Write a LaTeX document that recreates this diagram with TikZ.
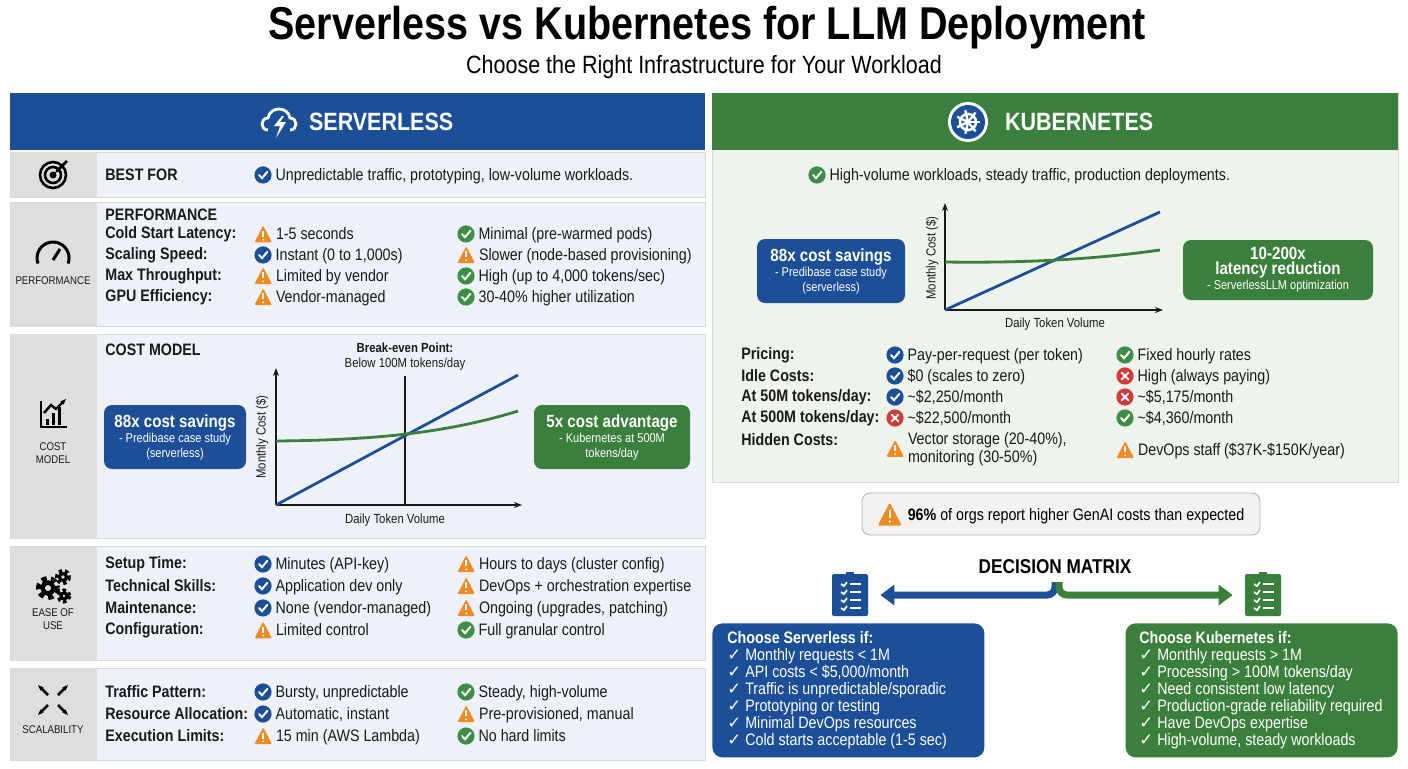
\documentclass[tikz,border=0pt]{standalone}
\usepackage{fontspec}
\setmainfont{Liberation Sans}[FakeStretch=0.86]
\newfontfamily\djv{DejaVu Sans}
\newcommand\ck{{\djv ✓}}
\usetikzlibrary{arrows.meta,calc}
\definecolor{sblue}{HTML}{1D4F99}
\definecolor{kgreen}{HTML}{3B7F3C}
\definecolor{worange}{HTML}{F08A24}
\definecolor{xred}{HTML}{D33A3A}
\definecolor{cgreen}{HTML}{3E8E47}
\definecolor{lblue}{HTML}{EEF2F8}
\definecolor{lgrey}{HTML}{DEDEDE}
\definecolor{lgreen}{HTML}{EEF3EC}
\definecolor{txt}{HTML}{1A1A1A}
\newcommand\icb{\tikz[x=1pt,y=1pt,baseline=-2.6pt]{\fill[sblue](0,0)circle(4.3);\draw[white,line width=1pt,line cap=round](-2,0)--(-0.5,-1.6)--(2.2,1.6);}}
\newcommand\icg{\tikz[x=1pt,y=1pt,baseline=-2.6pt]{\fill[cgreen](0,0)circle(4.3);\draw[white,line width=1pt,line cap=round](-2,0)--(-0.5,-1.6)--(2.2,1.6);}}
\newcommand\icx{\tikz[x=1pt,y=1pt,baseline=-2.6pt]{\fill[xred](0,0)circle(4.3);\draw[white,line width=1pt,line cap=round](-1.6,-1.6)--(1.6,1.6)(-1.6,1.6)--(1.6,-1.6);}}
\newcommand\icw{\tikz[x=1pt,y=1pt,baseline=-2.6pt]{\fill[worange,rounded corners=0.6pt](-4.4,-4)--(4.4,-4)--(0,4.4)--cycle;\draw[white,line width=0.9pt](0,1.8)--(0,-1.2);\fill[white](0,-2.6)circle(0.5);}}
\newcommand\bigt[1]{{\bfseries\fontsize{8.8}{10}\selectfont #1}}
\tikzset{
  x=0.5pt,y=-0.5pt,
  lab/.style={anchor=west,font=\bfseries\fontsize{8.3}{9}\selectfont,text=txt,inner sep=0},
  val/.style={anchor=west,font=\fontsize{8.3}{9}\selectfont,text=txt,inner sep=0},
  side/.style={font=\fontsize{5.6}{6.4}\selectfont,text=txt,align=center,inner sep=0},
  axisl/.style={font=\fontsize{6.6}{7.5}\selectfont,text=txt,inner sep=0},
  bigbox/.style={rounded corners=4pt,text=white,align=center,inner sep=3pt,font=\fontsize{6.4}{7.5}\selectfont},
  axarrow/.style={-{Stealth[length=4pt]},line width=0.7pt,txt},
}
\newcommand\prow[9]{%
  \node[lab] (l#1) at (#7,#1) {#2};
  \node[val] (a#1) at (#8,#1) {#3\hspace{2pt}#4};
  \node[val] (b#1) at (#9,#1) {#5\hspace{2pt}#6};}
\begin{document}
\begin{tikzpicture}
\useasboundingbox[fill=white] (0,0) rectangle (1408,768);
% title
\node[font=\bfseries\fontsize{23}{26}\selectfont] (title) at (707,28) {Serverless vs Kubernetes for LLM Deployment};
\node[font=\fontsize{12.5}{14}\selectfont] (sub) at (704,67) {Choose the Right Infrastructure for Your Workload};
% LEFT header
\fill[sblue] (10,93) rectangle (705,150);
\node[text=white,font=\bfseries\fontsize{12.5}{14}\selectfont,anchor=west] (shead) at (302,122) {SERVERLESS};
\begin{scope}[shift={(280,122)}]
\draw[white,line width=1.4pt] (-12,8) .. controls (-20,8) and (-20,-4) .. (-12,-4) .. controls (-10,-16) and (8,-16) .. (10,-4) .. controls (18,-4) and (18,8) .. (10,8);
\fill[white] (2,-6)--(-6,4)--(0,4)--(-4,16)--(6,0)--(0,0)--(4,-6)--cycle;
\end{scope}
% left rows bgs
\foreach \ya/\yb in {152/197,202/326,334/538,546/660,668/760}{
  \fill[lblue] (10,\ya) rectangle (705,\yb);
  \fill[lgrey] (10,\ya) rectangle (97,\yb);
  \draw[black!15] (10,\ya) rectangle (705,\yb);
}
% side icons
\begin{scope}[shift={(53,175)},line width=1.3pt]
\draw (0,0) circle (13); \draw (0,0) circle (8); \fill (0,0) circle (3.5);
\draw[-{Stealth[length=3pt]}] (14,-14)--(2,-2);
\end{scope}
\begin{scope}[shift={(53,258)},line width=1.5pt]
\draw (-15,5.5) arc[start angle=160,end angle=380,radius=16]; \draw (0,2)--(7,-9);
\end{scope}
\node[side] (sperf) at (53,281) {PERFORMANCE};
\begin{scope}[shift={(53,415)},line width=1.2pt]
\draw (-12,-14)--(-12,12)--(14,12);
\fill (-7,4) rectangle (-4,10); \fill (-1,-2) rectangle (2,10); \fill (5,-8) rectangle (8,10);
\draw[-{Stealth[length=3pt]}] (-9,-2)--(-2,-10)--(3,-6)--(13,-16);
\end{scope}
\node[side] (scost) at (53,453) {COST\\MODEL};
\begin{scope}[shift={(53,585)}]
\draw[line width=3pt,dash pattern=on 2.5pt off 2pt] (-5,3) circle (9); \draw[line width=2.2pt] (-5,3) circle (5.5);
\draw[line width=2pt,dash pattern=on 1.6pt off 1.4pt] (10,-8) circle (6); \draw[line width=1.6pt] (10,-8) circle (3.5);
\draw[line width=2pt,dash pattern=on 1.6pt off 1.4pt] (11,11) circle (5.5); \draw[line width=1.6pt] (11,11) circle (3);
\end{scope}
\node[side] (sease) at (53,619) {EASE OF\\USE};
\begin{scope}[shift={(53,700)},line width=1.3pt,-{Stealth[length=3pt]}]
\draw (-5,-5)--(-15,-15); \draw (5,-5)--(15,-15); \draw (-5,5)--(-15,15); \draw (5,5)--(15,15);
\end{scope}
\node[side] (sscal) at (53,730) {SCALABILITY};
% best for
\node[lab] (bf) at (105,175) {BEST FOR};
\node[val] (bfv) at (254,175) {\icb\hspace{2pt}Unpredictable traffic, prototyping, low-volume workloads.};
% performance
\node[lab] (perft) at (105,215) {PERFORMANCE};
\prow{234}{Cold Start Latency:}{\icw}{1-5 seconds}{\icg}{Minimal (pre-warmed pods)}{105}{254}{457}
\prow{255}{Scaling Speed:}{\icb}{Instant (0 to 1,000s)}{\icw}{Slower (node-based provisioning)}{105}{254}{457}
\prow{276}{Max Throughput:}{\icw}{Limited by vendor}{\icg}{High (up to 4,000 tokens/sec)}{105}{254}{457}
\prow{297}{GPU Efficiency:}{\icw}{Vendor-managed}{\icg}{30-40\% higher utilization}{105}{254}{457}
% cost model
\node[lab] (costt) at (105,350) {COST MODEL};
\coordinate (o1) at (276,505);
\draw[axarrow] (o1) -- (276,368);
\draw[axarrow] (o1) -- (522,505);
\draw[txt,line width=0.6pt] (405,376) -- (405,505);
\draw[sblue,line width=1.4pt] (o1) -- (518,375);
\draw[kgreen,line width=1.4pt] (276,441) .. controls (380,440) and (450,432) .. (518,411);
\node[axisl,rotate=90] (my1) at (262,437) {Monthly Cost (\$)};
\node[axisl] (dx1) at (395,520) {Daily Token Volume};
\node[axisl,align=center] (be) at (405,357) {\textbf{Break-even Point:}\\Below 100M tokens/day};
\node[bigbox,fill=sblue,minimum width=71pt,minimum height=32pt] (b88) at (175,437) {\bigt{88x cost savings}\\- Predibase case study\\(serverless)};
\node[bigbox,fill=kgreen,minimum width=78pt,minimum height=32pt] (b5x) at (612,437) {\bigt{5x cost advantage}\\- Kubernetes at 500M\\tokens/day};
% ease
\prow{564}{Setup Time:}{\icb}{Minutes (API-key)}{\icw}{Hours to days (cluster config)}{105}{254}{457}
\prow{586}{Technical Skills:}{\icb}{Application dev only}{\icw}{DevOps + orchestration expertise}{105}{254}{457}
\prow{608}{Maintenance:}{\icb}{None (vendor-managed)}{\icw}{Ongoing (upgrades, patching)}{105}{254}{457}
\prow{630}{Configuration:}{\icw}{Limited control}{\icg}{Full granular control}{105}{254}{457}
% scalability
\prow{692}{Traffic Pattern:}{\icb}{Bursty, unpredictable}{\icg}{Steady, high-volume}{105}{254}{457}
\prow{714}{Resource Allocation:}{\icb}{Automatic, instant}{\icw}{Pre-provisioned, manual}{105}{254}{457}
\prow{736}{Execution Limits:}{\icw}{15 min (AWS Lambda)}{\icg}{No hard limits}{105}{254}{457}
% RIGHT panel
\fill[lgreen] (712,150) rectangle (1398,482);
\draw[black!15] (712,93) rectangle (1398,482);
\fill[kgreen] (712,93) rectangle (1398,150);
\node[text=white,font=\bfseries\fontsize{12.5}{14}\selectfont,anchor=west] (khead) at (998,122) {KUBERNETES};
\begin{scope}[shift={(968,122)}]
\fill[white] (0,0) circle (20); \fill[sblue] (0,0) circle (17);
\draw[white,line width=1.3pt] (0,0) circle (8);
\foreach \a in {0,51.4,...,330}{\draw[white,line width=1.2pt] (0,0)--(\a:12);}
\fill[white] (0,0) circle (2.5);
\end{scope}
\node[val] (kbf) at (808,175) {\icg\hspace{2pt}High-volume workloads, steady traffic, production deployments.};
\coordinate (o2) at (945,310);
\draw[axarrow] (o2) -- (945,203);
\draw[axarrow] (o2) -- (1163,310);
\draw[sblue,line width=1.4pt] (o2) -- (1160,212);
\draw[kgreen,line width=1.4pt] (945,262) .. controls (1020,263) and (1090,260) .. (1160,250);
\node[axisl,rotate=90] (my2) at (932,258) {Monthly Cost (\$)};
\node[axisl] (dx2) at (1055,324) {Daily Token Volume};
\node[bigbox,fill=sblue,minimum width=74pt,minimum height=32pt] (k88) at (831,271) {\bigt{88x cost savings}\\- Predibase case study\\(serverless)};
\node[bigbox,fill=kgreen,minimum width=95pt,minimum height=30pt] (k10) at (1278,270) {\bigt{10-200x}\\\bigt{latency reduction}\\- ServerlessLLM optimization};
\prow{355}{Pricing:}{\icb}{Pay-per-request (per token)}{\icg}{Fixed hourly rates}{741}{886}{1116}
\prow{376}{Idle Costs:}{\icb}{\$0 (scales to zero)}{\icx}{High (always paying)}{741}{886}{1116}
\prow{397}{At 50M tokens/day:}{\icb}{\textasciitilde\$2,250/month}{\icx}{\textasciitilde\$5,175/month}{741}{886}{1116}
\prow{418}{At 500M tokens/day:}{\icx}{\textasciitilde\$22,500/month}{\icg}{\textasciitilde\$4,360/month}{741}{886}{1116}
\node[lab] (hid) at (741,440) {Hidden Costs:};
\node[val] (hida) at (886,450) {\icw\hspace{2pt}\begin{tabular}[c]{@{}l@{}}Vector storage (20-40\%),\\monitoring (30-50\%)\end{tabular}};
\node[val] (hidb) at (1116,450) {\icw\hspace{2pt}DevOps staff (\$37K-\$150K/year)};
% banner
\node[draw=black!30,fill=black!5,rounded corners=4pt,minimum width=199pt,minimum height=21pt,font=\fontsize{8.3}{9}\selectfont] (ban) at (1061,514) {\tikz[x=1pt,y=1pt,baseline=-3pt]{\fill[worange,rounded corners=0.8pt](-6,-5.5)--(6,-5.5)--(0,6)--cycle;\draw[white,line width=1.2pt](0,2.5)--(0,-1.5);\fill[white](0,-3.5)circle(0.7);}\hspace{3pt}\textbf{96\%} of orgs report higher GenAI costs than expected};
% decision matrix
\node[font=\bfseries\fontsize{10}{12}\selectfont] (dm) at (1055,567) {DECISION MATRIX};
\coordinate (fork) at (1055,582);
\foreach \cx/\cc/\nm in {850/sblue/cbl,1263/kgreen/cgr}{
  \node[fill=\cc,minimum width=18pt,minimum height=21pt,inner sep=0,rounded corners=1pt] (\nm) at (\cx,595) {};
  \fill[\cc] (\cx-4,572) rectangle (\cx+4,578);
  \foreach \yy in {584,592,600,608}{\draw[white,line width=0.9pt] (\cx-9,\yy)--(\cx-6,\yy+2)--(\cx-3,\yy-2); \draw[white,line width=1pt] (\cx,\yy)--(\cx+11,\yy);}
}
\draw[sblue,line width=3.5pt,rounded corners=4pt,-{Triangle[width=10pt,length=7pt]}] (fork) |- ([xshift=6pt]cbl.east |- 0,595) ;
\draw[kgreen,line width=3.5pt,rounded corners=4pt,-{Triangle[width=10pt,length=7pt]}] ([xshift=2pt]fork) |- ([xshift=-6pt]cgr.west |- 0,595);
% decision boxes
\node[fill=sblue,rounded corners=5pt,minimum width=136pt,minimum height=67pt,anchor=north west,inner sep=0] (dbl) at (712,623) {};
\node[anchor=north west,text=white,font=\fontsize{8.3}{8.5}\selectfont,align=left,inner sep=0] (dblt) at (727,631) {\textbf{Choose Serverless if:}\\\ck\ Monthly requests < 1M\\\ck\ API costs < \$5,000/month\\\ck\ Traffic is unpredictable/sporadic\\\ck\ Prototyping or testing\\\ck\ Minimal DevOps resources\\\ck\ Cold starts acceptable (1-5 sec)};
\node[fill=kgreen,rounded corners=5pt,minimum width=136pt,minimum height=67pt,anchor=north east,inner sep=0] (dgr) at (1398,623) {};
\node[anchor=north west,text=white,font=\fontsize{8.3}{8.5}\selectfont,align=left,inner sep=0] (dgrt) at (1139,631) {\textbf{Choose Kubernetes if:}\\\ck\ Monthly requests > 1M\\\ck\ Processing > 100M tokens/day\\\ck\ Need consistent low latency\\\ck\ Production-grade reliability required\\\ck\ Have DevOps expertise\\\ck\ High-volume, steady workloads};
\end{tikzpicture}
\end{document}
